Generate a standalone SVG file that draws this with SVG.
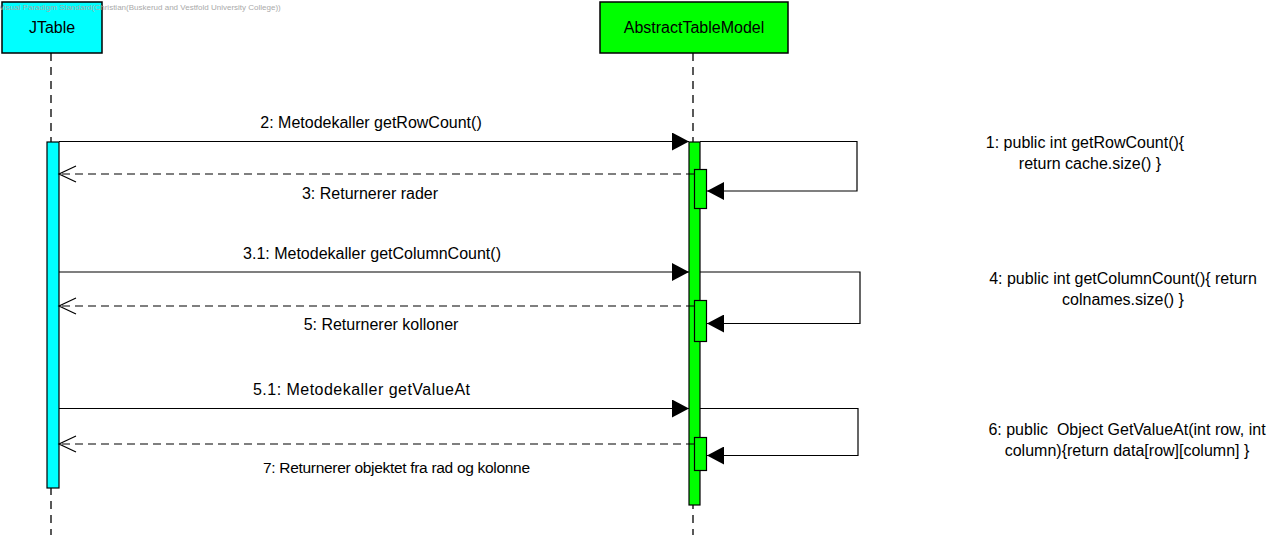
<svg xmlns="http://www.w3.org/2000/svg" width="1282" height="540" viewBox="0 0 1282 540">
<style>
text{font-family:"Liberation Sans",Arial,sans-serif;font-size:16px;fill:#000}
.lbl{text-anchor:middle}
.life{stroke:#000;stroke-width:1.3;stroke-dasharray:8,6;fill:none}
.msg{stroke:#000;stroke-width:1.2;fill:none}
.ret{stroke:#000;stroke-width:1.2;fill:none;stroke-dasharray:8,5}
</style>
<defs>
<marker id="filled" markerWidth="18" markerHeight="18" refX="17" refY="9" orient="auto" markerUnits="userSpaceOnUse">
<path d="M0,0 L17,9 L0,18 Z" fill="#000"/>
</marker>
<marker id="open" markerWidth="20" markerHeight="20" refX="18" refY="10" orient="auto" markerUnits="userSpaceOnUse">
<path d="M1,2 L18,10 L1,18" fill="none" stroke="#000" stroke-width="1.2"/>
</marker>
</defs>
<rect width="1282" height="540" fill="#fff"/>

<g id="lifelines">
<line class="life" x1="51" y1="53" x2="51" y2="535"/>
<line class="life" x1="693" y1="53" x2="693" y2="535"/>
</g>

<g id="JTable">
<rect x="2" y="2" width="100" height="51" fill="#00ffff" stroke="#000" stroke-width="1.5"/>
<text class="lbl" x="52" y="33">JTable</text>
<rect x="47" y="142" width="12" height="346" fill="#00ffff" stroke="#000" stroke-width="1.2"/>
</g>

<g id="AbstractTableModel">
<rect x="600" y="2" width="188" height="51" fill="#00ff00" stroke="#000" stroke-width="1.5"/>
<text class="lbl" x="694" y="33">AbstractTableModel</text>
<rect x="689" y="142" width="11" height="363" fill="#00ff00" stroke="#000" stroke-width="1.2"/>
<rect x="694.5" y="169.5" width="12" height="39" fill="#00ff00" stroke="#000" stroke-width="1.2"/>
<rect x="694.5" y="300.5" width="12" height="41" fill="#00ff00" stroke="#000" stroke-width="1.2"/>
<rect x="694.5" y="437.5" width="12" height="33" fill="#00ff00" stroke="#000" stroke-width="1.2"/>
</g>

<g id="connectors">
<line class="msg" x1="59" y1="141.5" x2="689" y2="141.5" marker-end="url(#filled)"/>
<path class="msg" d="M700,141.5 H857 V191 H707" marker-end="url(#filled)"/>
<line class="ret" x1="694" y1="174" x2="59" y2="174" marker-end="url(#open)"/>

<line class="msg" x1="59" y1="272" x2="689" y2="272" marker-end="url(#filled)"/>
<path class="msg" d="M700,272 H860 V323.5 H707" marker-end="url(#filled)"/>
<line class="ret" x1="694" y1="306" x2="59" y2="306" marker-end="url(#open)"/>

<line class="msg" x1="59" y1="408.5" x2="689" y2="408.5" marker-end="url(#filled)"/>
<path class="msg" d="M700,408.5 H858 V455.5 H707" marker-end="url(#filled)"/>
<line class="ret" x1="694" y1="444" x2="59" y2="444" marker-end="url(#open)"/>
</g>

<g id="labels">
<text class="lbl" x="371" y="128">2: Metodekaller getRowCount()</text>
<text class="lbl" x="370" y="199">3: Returnerer rader</text>
<text class="lbl" x="372" y="259">3.1: Metodekaller getColumnCount()</text>
<text class="lbl" x="381" y="330">5: Returnerer kolloner</text>
<text class="lbl" x="361.5" y="395" textLength="217" lengthAdjust="spacing">5.1: Metodekaller getValueAt</text>
<text class="lbl" x="396.5" y="473" style="font-size:15.5px" textLength="267" lengthAdjust="spacing">7: Returnerer objektet fra rad og kolonne</text>
</g>

<g id="notes">
<text class="lbl" x="1085" y="148">1: public int getRowCount(){</text>
<text class="lbl" x="1090" y="169">return cache.size() }</text>
<text class="lbl" x="1123" y="284">4: public int getColumnCount(){ return</text>
<text class="lbl" x="1123" y="305">colnames.size() }</text>
<text class="lbl" x="1127" y="435" xml:space="preserve">6: public  Object GetValueAt(int row, int</text>
<text class="lbl" x="1127" y="456">column){return data[row][column] }</text>
</g>

<text x="-1" y="10" style="font-size:8px;fill:#aaa">Visual Paradigm Standard(Christian(Buskerud and Vestfold University College))</text>
</svg>
